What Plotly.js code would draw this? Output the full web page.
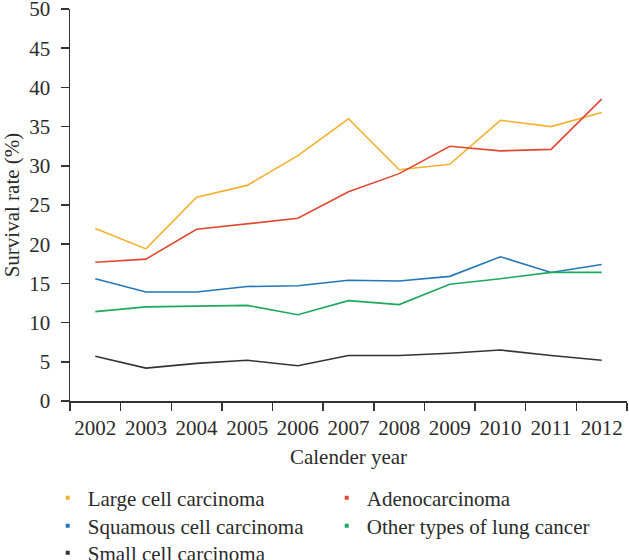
<!DOCTYPE html>
<html>
<head>
<meta charset="utf-8">
<script src="https://cdn.plot.ly/plotly-3.0.1.min.js"></script>
<style>html,body{margin:0;padding:0;background:#fff;}#chart{width:629px;height:560px;}</style>
</head>
<body>
<div id="chart"></div>
<script>
const years = ['2002','2003','2004','2005','2006','2007','2008','2009','2010','2011','2012'];
const largeCell = [22.0, 19.4, 26.0, 27.5, 31.3, 36.0, 29.5, 30.2, 35.8, 35.0, 36.8];
const adeno = [17.7, 18.1, 21.9, 22.6, 23.3, 26.7, 29.0, 32.5, 31.9, 32.1, 38.5];
const squamous = [15.6, 13.9, 13.9, 14.6, 14.7, 15.4, 15.3, 15.9, 18.4, 16.4, 17.4];
const otherTypes = [11.4, 12.0, 12.1, 12.2, 11.0, 12.8, 12.3, 14.9, 15.6, 16.4, 16.4];
const smallCell = [5.7, 4.2, 4.8, 5.2, 4.5, 5.8, 5.8, 6.1, 6.5, 5.8, 5.2];

const seriesNames = ['Large cell carcinoma','Adenocarcinoma','Squamous cell carcinoma','Other types of lung cancer','Small cell carcinoma'];
const seriesValues = [largeCell, adeno, squamous, otherTypes, smallCell];
const colors = ['#F5B02F','#E0482F','#2376B7','#1EA85E','#333333'];
const legendRow = ['legend','legend','legend2','legend2','legend3'];

const traces = [];
seriesValues.forEach((vals, i) => {
  traces.push({
    x: years, y: vals, type: 'scatter', mode: 'lines',
    line: {color: colors[i], width: 1.6},
    showlegend: false, hoverinfo: 'x+y'
  });
});
seriesNames.forEach((name, i) => {
  traces.push({
    x: [null], y: [null], type: 'scatter', mode: 'markers', name: name,
    marker: {color: colors[i], symbol: 'square', size: 4},
    showlegend: true, legend: legendRow[i]
  });
});

const fontFam = 'Liberation Serif, serif';
const txt = '#2b2b2b';
const fs = 21;
const plotTop = 9, plotBottom = 401, plotH = plotBottom - plotTop;
function py(p) { return (plotBottom - p) / plotH; }
function leg(yPix) {
  return {
    orientation: 'h', x: -0.04, xanchor: 'left', y: py(yPix), yanchor: 'middle',
    entrywidth: 234, entrywidthmode: 'pixels',
    font: {family: fontFam, size: fs, color: txt},
    bgcolor: 'rgba(0,0,0,0)', itemclick: false, itemdoubleclick: false
  };
}
const layout = {
  width: 629, height: 560,
  margin: {l: 70, r: 2, t: plotTop, b: 560 - plotBottom, autoexpand: false},
  paper_bgcolor: '#fff', plot_bgcolor: '#fff',
  font: {family: fontFam, size: fs, color: txt},
  showlegend: true,
  xaxis: {
    type: 'category', tickson: 'boundaries', range: [-0.5, 10.5],
    showline: true, linecolor: '#333', linewidth: 1.5,
    ticks: 'outside', ticklen: 8, tickwidth: 1.5, tickcolor: '#333',
    showgrid: false, zeroline: false, tickangle: 0,
    tickfont: {family: fontFam, size: fs, color: txt},
    ticklabelstandoff: 7,
    title: {text: 'Calender year', font: {family: fontFam, size: fs, color: txt}, standoff: 10},
    fixedrange: true
  },
  yaxis: {
    range: [0, 50], dtick: 5, tick0: 0,
    showline: true, linecolor: '#333', linewidth: 1.5,
    ticks: 'outside', ticklen: 8, tickwidth: 1.5, tickcolor: '#333',
    showgrid: false, zeroline: false,
    tickfont: {family: fontFam, size: fs, color: txt},
    ticklabelstandoff: 6, ticklabeloverflow: 'allow',
    title: {text: 'Survival rate (%)', font: {family: fontFam, size: fs, color: txt}, standoff: 8},
    fixedrange: true
  },
  legend: leg(498),
  legend2: leg(526),
  legend3: leg(553)
};

Plotly.newPlot('chart', traces, layout, {displayModeBar: false, staticPlot: true});
</script>
</body>
</html>
